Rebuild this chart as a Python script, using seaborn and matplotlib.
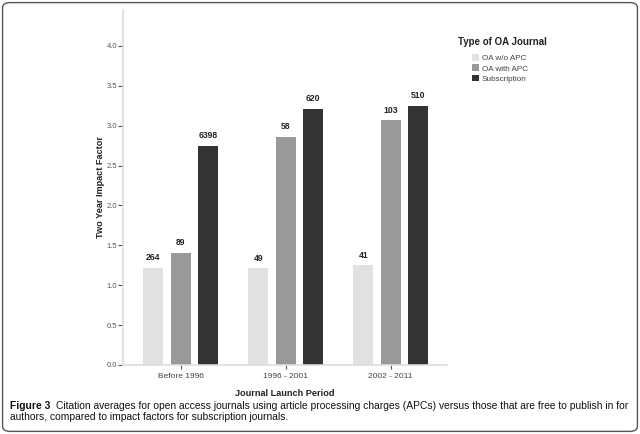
import numpy as np
import pandas as pd
import matplotlib
matplotlib.use("Agg")
import matplotlib.pyplot as plt
from matplotlib.patches import FancyBboxPatch, Patch
import seaborn as sns

# data
periods = ["Before 1996", "1996 - 2001", "2002 - 2011"]
journal_types = ["OA w/o APC", "OA with APC", "Subscription"]
oa_no_apc = [1.22, 1.21, 1.25]
oa_apc = [1.41, 2.86, 3.07]
subscription = [2.75, 3.21, 3.25]
n_no_apc = [264, 49, 41]
n_apc = [89, 58, 103]
n_sub = [6398, 620, 510]

df = pd.DataFrame({
    "period": periods * 3,
    "type": [t for t in journal_types for _ in periods],
    "impact": oa_no_apc + oa_apc + subscription,
    "n": n_no_apc + n_apc + n_sub,
})

colors = ["#e1e1e1", "#999999", "#333333"]

sns.set_style("white")
plt.rcParams['font.family'] = ['Liberation Sans', 'DejaVu Sans']

fig = plt.figure(figsize=(6.4, 4.34), dpi=100)
ax = fig.add_axes([0.192, 0.159, 0.506, 0.818])

sns.barplot(data=df, x="period", y="impact", hue="type", hue_order=journal_types,
            palette=colors, width=0.786, gap=0.27, ax=ax, legend=False,
            saturation=1, edgecolor="none")

# count labels above bars
for cont, t in zip(ax.containers, journal_types):
    counts = df[df["type"] == t]["n"].tolist()
    ax.bar_label(cont, labels=[str(c) for c in counts], padding=4,
                 fontsize=6.2, fontweight="bold", color="#222222")

ax.set_ylim(0, 4.45)
ax.set_xlim(-0.552, 2.534)
ax.set_yticks(np.arange(0, 4.01, 0.5))
ax.set_yticklabels([f"{v:.1f}" for v in np.arange(0, 4.01, 0.5)])
ax.tick_params(axis="y", left=True, length=3.5, width=0.8, color="#555555",
               labelsize=5.5, labelcolor="#555555", pad=0.5)
ax.tick_params(axis="x", bottom=True, length=3, width=0.8, color="#555555",
               labelsize=6, labelcolor="#444444", pad=3)
for s in ["top", "right"]:
    ax.spines[s].set_visible(False)
for s in ["left", "bottom"]:
    ax.spines[s].set_color("#dddddd")
    ax.spines[s].set_linewidth(1.2)

ax.set_ylabel("Two Year Impact Factor", fontsize=6.6, fontweight="bold",
              color="#222222", labelpad=1)
ax.set_xlabel("Journal Launch Period", fontsize=6.6, fontweight="bold",
              color="#222222", labelpad=6)

# legend: title placed separately so the entries sit indented under it
fig.text(0.716, 0.903, "Type of OA Journal", fontsize=7, fontweight="bold",
         color="#222222", va="center")
handles = [Patch(facecolor=c, edgecolor="none") for c in colors]
leg = fig.legend(handles, journal_types, loc="upper left",
                 bbox_to_anchor=(0.738, 0.875), frameon=False,
                 fontsize=5.9, handlelength=0.85, handleheight=0.85,
                 handletextpad=0.3, labelspacing=0.25, borderaxespad=0,
                 borderpad=0)
for txt in leg.get_texts():
    txt.set_color("#444444")

# caption
fig.text(0.015, 0.058, "Figure 3", fontsize=7.4, fontweight="bold", color="#111111")
fig.text(0.087, 0.058, "Citation averages for open access journals using article processing "
         "charges (APCs) versus those that are free to publish in for",
         fontsize=7.4, color="#111111")
fig.text(0.015, 0.032, "authors, compared to impact factors for subscription journals.",
         fontsize=7.4, color="#111111")

# rounded frame
frame = FancyBboxPatch((0.004, 0.006), 0.992, 0.988, boxstyle="round,pad=0,rounding_size=0.012",
                       transform=fig.transFigure, fill=False, edgecolor="#555555",
                       linewidth=1.0)
fig.patches.append(frame)

fig.savefig("out.png", dpi=100)
